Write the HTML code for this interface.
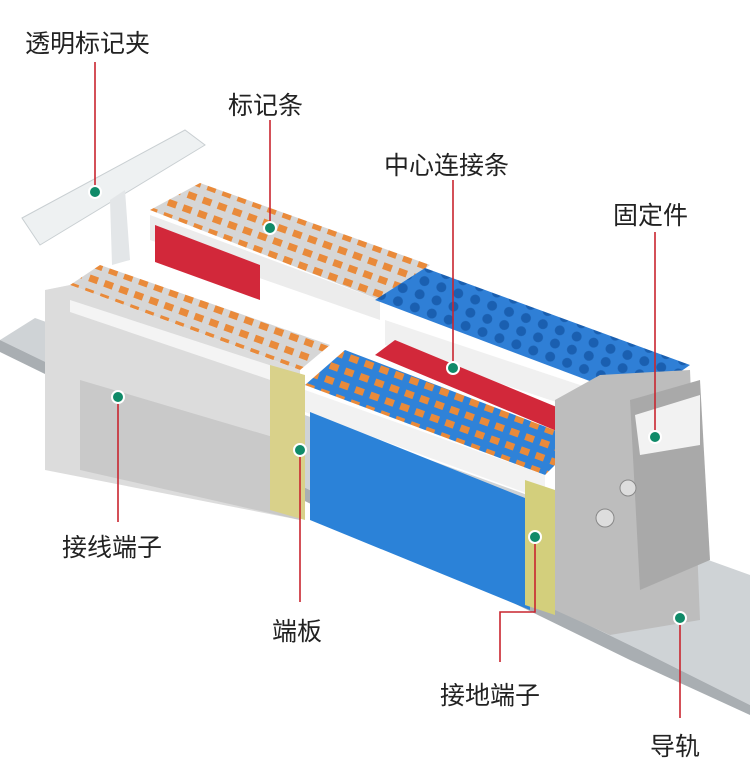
<!DOCTYPE html>
<html><head><meta charset="utf-8"><style>
body{margin:0;width:750px;height:760px;background:#fff;overflow:hidden;position:relative;font-family:"Liberation Sans","Noto Sans CJK SC",sans-serif}
.l{position:absolute;font-size:25px;color:#222;white-space:nowrap}
</style></head><body>
<svg width="750" height="760" style="position:absolute;left:0;top:0">
<defs>
<pattern id="pg" width="16" height="14" patternUnits="userSpaceOnUse" patternTransform="rotate(20)">
<rect width="16" height="14" fill="#d6d6d6"/><rect x="3" y="3" width="9" height="7" fill="#e98a3a"/></pattern>
<pattern id="pb" width="16" height="14" patternUnits="userSpaceOnUse" patternTransform="rotate(20)">
<rect width="16" height="14" fill="#2f82d8"/><rect x="3" y="3" width="9" height="7" fill="#e98a3a"/></pattern>
<pattern id="pbb" width="18" height="14" patternUnits="userSpaceOnUse" patternTransform="rotate(20)">
<rect width="18" height="14" fill="#2f7fd6"/><circle cx="9" cy="7" r="5" fill="#1a5fb0"/></pattern>
</defs>
<!-- rail -->
<polygon points="0,340 35,318 750,575 750,705 640,650" fill="#cfd3d6"/>
<polygon points="0,340 640,650 750,705 750,715 630,660 0,352" fill="#a9aeb2"/>
<!-- clip -->
<polygon points="22,218 185,130 205,145 40,245" fill="#eef1f2" stroke="#c9cfd2"/>
<polygon points="110,200 125,190 130,260 112,265" fill="#e3e6e8"/>
<!-- back grey block -->
<polygon points="150,210 200,183 430,265 380,300" fill="url(#pg)"/>
<polygon points="150,215 380,300 380,320 150,240" fill="#ececec"/>
<polygon points="155,225 260,265 260,300 155,262" fill="#d2283a"/>
<!-- left grey block -->
<polygon points="70,285 100,265 330,345 300,370" fill="url(#pg)"/>
<polygon points="45,290 70,285 300,370 300,520 45,470" fill="#dcdcdc"/>
<polygon points="70,300 300,375 300,390 70,312" fill="#f4f4f4"/>
<polygon points="80,380 300,445 300,520 80,470" fill="#c9c9c9"/>
<polygon points="270,365 305,375 305,520 270,510" fill="#d9d18a"/>
<!-- back blue block -->
<polygon points="375,300 425,268 690,365 640,400" fill="url(#pbb)"/>
<polygon points="385,320 640,405 640,430 385,345" fill="#f0f0f0"/>
<!-- center connector -->
<polygon points="375,355 395,340 600,425 590,445" fill="#d2283a"/>
<!-- front blue block -->
<polygon points="305,385 345,350 580,440 545,475" fill="url(#pb)"/>
<polygon points="305,390 545,475 545,500 305,412" fill="#f2f2f2"/>
<polygon points="310,412 530,500 530,610 310,520" fill="#2b82d8"/>
<polygon points="525,480 555,490 555,615 525,605" fill="#d3cf7c"/>
<!-- fixing / end plate -->
<polygon points="555,400 600,375 690,370 700,620 610,635 555,610" fill="#bdbdbd"/>
<polygon points="630,400 700,380 710,560 640,590" fill="#a9a9a9"/>
<polygon points="635,415 700,395 700,445 640,455" fill="#f2f2f2"/>
<circle cx="605" cy="518" r="9" fill="#ddd" stroke="#888"/>
<circle cx="628" cy="488" r="8" fill="#ddd" stroke="#888"/>
<!-- leader lines -->
<g stroke="#c9252f" stroke-width="1.6" fill="none">
<line x1="95" y1="62" x2="95" y2="192"/>
<line x1="270" y1="120" x2="270" y2="228"/>
<line x1="453" y1="180" x2="453" y2="368"/>
<line x1="655" y1="232" x2="655" y2="437"/>
<line x1="118" y1="397" x2="118" y2="522"/>
<line x1="300" y1="450" x2="300" y2="602"/>
<polyline points="535,537 535,612 500,612 500,662"/>
<line x1="680" y1="618" x2="680" y2="718"/>
</g>
<g fill="#0f8a68" stroke="#fff" stroke-width="2">
<circle cx="95" cy="192" r="6"/><circle cx="270" cy="228" r="6"/>
<circle cx="453" cy="368" r="6"/><circle cx="655" cy="437" r="6"/>
<circle cx="118" cy="397" r="6"/><circle cx="300" cy="450" r="6"/>
<circle cx="535" cy="537" r="6"/><circle cx="680" cy="618" r="6"/>
</g>
</svg>
<div class="l" style="left:25px;top:24px">透明标记夹</div>
<div class="l" style="left:228px;top:86px">标记条</div>
<div class="l" style="left:384px;top:146px">中心连接条</div>
<div class="l" style="left:613px;top:196px">固定件</div>
<div class="l" style="left:62px;top:528px">接线端子</div>
<div class="l" style="left:272px;top:612px">端板</div>
<div class="l" style="left:440px;top:676px">接地端子</div>
<div class="l" style="left:650px;top:727px">导轨</div>
</body></html>
